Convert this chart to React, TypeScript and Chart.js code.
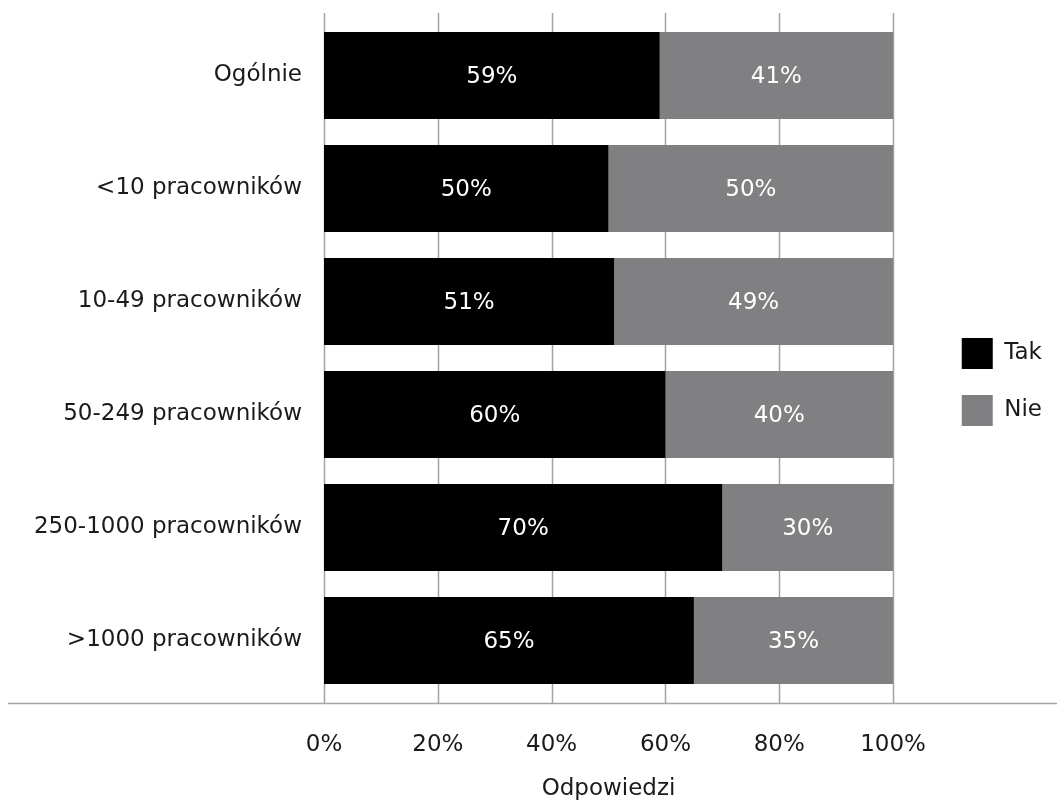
import React, { useEffect, useRef } from "react";
import { Chart, registerables } from "chart.js";

Chart.register(...registerables);

const categories = [
  "Ogólnie",
  "<10 pracowników",
  "10-49 pracowników",
  "50-249 pracowników",
  "250-1000 pracowników",
  ">1000 pracowników",
];
const takValues = [59, 50, 51, 60, 70, 65];
const nieValues = [41, 50, 49, 40, 30, 35];
const xTickValues = [0, 20, 40, 60, 80, 100];
const axisTitle = "Odpowiedzi";

const FONT = "'DejaVu Sans', sans-serif";
const TEXT_COLOR = "#1a1a1a";
const GRID_COLOR = "#a3a3a3";
const FONT_SIZE = 23;

// Vertical gridlines (slightly overhanging the plot) and the full-width baseline
const gridPlugin = {
  id: "gridLines",
  beforeDatasetsDraw(chart: any) {
    const { ctx, chartArea, scales } = chart;
    const xs = scales.x;
    const top = chartArea.top - 6;
    const bottom = chartArea.bottom + 6;
    ctx.save();
    ctx.strokeStyle = GRID_COLOR;
    ctx.lineWidth = 1.5;
    xTickValues.forEach((v) => {
      const px = Math.round(xs.getPixelForValue(v)) + 0.5;
      ctx.beginPath();
      ctx.moveTo(px, top);
      ctx.lineTo(px, bottom);
      ctx.stroke();
    });
    ctx.beginPath();
    ctx.moveTo(8, Math.round(bottom) + 0.5);
    ctx.lineTo(chart.width, Math.round(bottom) + 0.5);
    ctx.stroke();
    ctx.restore();
  },
};

// White percentage labels centred in each bar segment, plus the axis caption
const labelPlugin = {
  id: "valueLabels",
  afterDatasetsDraw(chart: any) {
    const { ctx } = chart;
    ctx.save();
    ctx.fillStyle = "#ffffff";
    ctx.font = `${FONT_SIZE}px ${FONT}`;
    ctx.textAlign = "center";
    ctx.textBaseline = "middle";
    chart.data.datasets.forEach((ds: any, i: number) => {
      const meta = chart.getDatasetMeta(i);
      meta.data.forEach((bar: any, j: number) => {
        const { x, y } = bar.getCenterPoint();
        ctx.fillText(`${ds.data[j]}%`, x, y + 2);
      });
    });
    ctx.restore();
  },
  afterDraw(chart: any) {
    const { ctx, scales } = chart;
    const xs = scales.x;
    const first = xTickValues[0];
    const last = xTickValues[xTickValues.length - 1];
    const cx = (xs.getPixelForValue(first) + xs.getPixelForValue(last)) / 2;
    ctx.save();
    ctx.fillStyle = TEXT_COLOR;
    ctx.font = `${FONT_SIZE}px ${FONT}`;
    ctx.textAlign = "center";
    ctx.textBaseline = "middle";
    ctx.fillText(axisTitle, cx, chart.height - 13);
    ctx.restore();
  },
};

export default function App() {
  const canvasRef = useRef<HTMLCanvasElement | null>(null);

  useEffect(() => {
    document.body.style.margin = "0";
    const canvas = canvasRef.current;
    if (!canvas) return;
    Chart.defaults.font.family = FONT;
    Chart.defaults.color = TEXT_COLOR;

    const chart = new Chart(canvas, {
      type: "bar",
      data: {
        labels: categories,
        datasets: [
          {
            label: "Tak",
            data: takValues,
            backgroundColor: "#000000",
            borderWidth: 0,
            categoryPercentage: 1,
            barPercentage: 0.77,
          },
          {
            label: "Nie",
            data: nieValues,
            backgroundColor: "#808083",
            borderWidth: 0,
            categoryPercentage: 1,
            barPercentage: 0.77,
          },
        ],
      },
      options: {
        indexAxis: "y",
        animation: false,
        responsive: false,
        maintainAspectRatio: false,
        layout: { padding: { top: 19, left: 8, right: 5, bottom: 43 } },
        scales: {
          x: {
            stacked: true,
            min: 0,
            max: 107.5,
            grid: { display: false, drawTicks: false },
            border: { display: false },
            afterBuildTicks: (scale: any) => {
              scale.ticks = xTickValues.map((v) => ({ value: v }));
            },
            afterFit: (scale: any) => {
              scale.height = 62;
            },
            ticks: {
              padding: 34,
              color: TEXT_COLOR,
              font: { size: FONT_SIZE },
              callback: (v: any) => `${v}%`,
            },
          },
          y: {
            stacked: true,
            grid: { display: false, drawTicks: false },
            border: { display: false },
            afterFit: (scale: any) => {
              scale.width = 324 - 8;
              scale.paddingTop = 0;
              scale.paddingBottom = 0;
            },
            ticks: {
              padding: 22,
              color: TEXT_COLOR,
              font: { size: FONT_SIZE },
            },
          },
        },
        plugins: {
          legend: {
            position: "right",
            fullSize: false,
            align: "center",
            title: {
              display: true,
              text: "",
              font: { size: 12 },
              padding: { top: 33.6, bottom: 0 },
            },
            labels: {
              boxWidth: 31,
              boxHeight: 31,
              padding: 26,
              color: TEXT_COLOR,
              font: { size: FONT_SIZE },
            },
          },
          tooltip: { enabled: false },
        },
      },
      plugins: [gridPlugin, labelPlugin],
    } as any);

    return () => chart.destroy();
  }, []);

  return (
    <div style={{ width: 1057, height: 802 }}>
      <canvas ref={canvasRef} width={1057} height={802} />
    </div>
  );
}
